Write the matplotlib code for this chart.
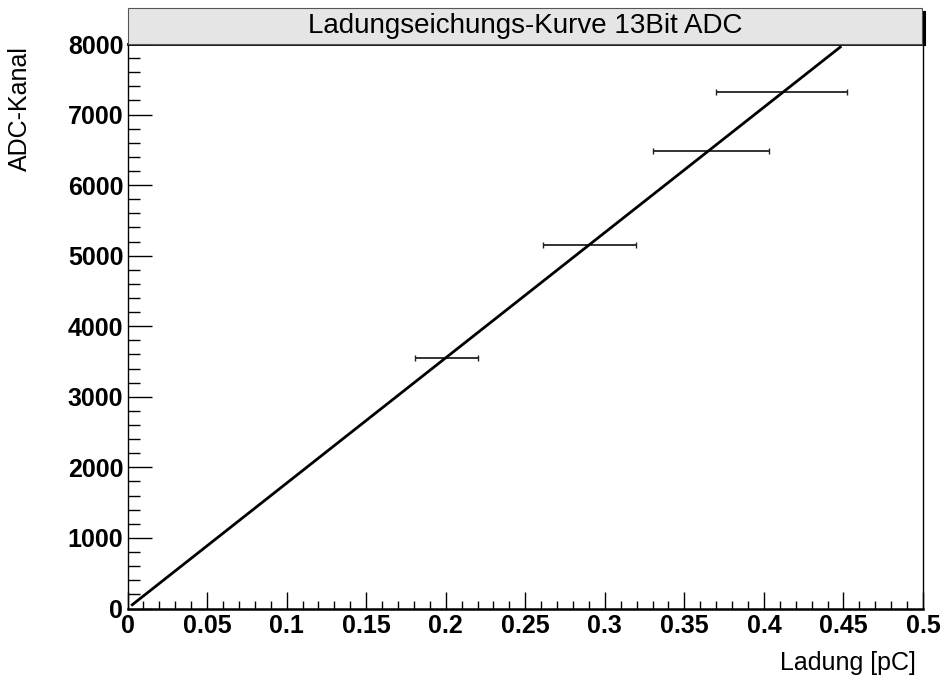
import matplotlib
matplotlib.use("Agg")
import matplotlib.pyplot as plt
from matplotlib.patches import Rectangle
from matplotlib.ticker import MultipleLocator
import numpy as np

plt.rcParams['font.family'] = ['Liberation Sans', 'DejaVu Sans']

# data
charge = [0.2005, 0.2905, 0.3667, 0.4109]          # pC
charge_err = [0.0198, 0.0291, 0.0367, 0.0411]
adc = [3550, 5150, 6477, 7324]
fit_slope = 17760.0
fit_intercept = 0.0
fit_range = [0.003, 0.448]

title = "Ladungseichungs-Kurve 13Bit ADC"
xlabel = "Ladung [pC]"
ylabel = "ADC-Kanal"

W, H = 943, 677
fig = plt.figure(figsize=(W/100, H/100), dpi=100)
L, R, T, B = 127.5, 923, 44, 608.5
ax = fig.add_axes([L/W, 1-B/H, (R-L)/W, (B-T)/H])
ax.set_xlim(0, 0.5)
ax.set_ylim(0, 8000)

xf = np.array(fit_range)
ax.plot(xf, fit_slope*xf + fit_intercept, color='black', lw=2.0, zorder=3)
ax.errorbar(charge, adc, xerr=charge_err, fmt='none', ecolor='#222222',
            elinewidth=1.3, capsize=2.5, capthick=1.0, zorder=2)

ax.xaxis.set_major_locator(MultipleLocator(0.05))
ax.xaxis.set_minor_locator(MultipleLocator(0.01))
ax.yaxis.set_major_locator(MultipleLocator(1000))
ax.yaxis.set_minor_locator(MultipleLocator(200))
ax.xaxis.set_major_formatter(matplotlib.ticker.FuncFormatter(lambda v, p: ('%g' % round(v, 3))))
ax.tick_params(axis='x', which='major', direction='in', length=12.2, width=1.0,
               labelsize=18, pad=4)
ax.tick_params(axis='x', which='minor', direction='in', length=5.8, width=1.0)
ax.tick_params(axis='y', which='major', direction='in', length=17.3, width=1.0,
               labelsize=18, pad=3)
ax.tick_params(axis='y', which='minor', direction='in', length=8.6, width=1.0)
for lab in ax.get_xticklabels() + ax.get_yticklabels():
    lab.set_fontweight('bold')

for s in ['left', 'right']:
    ax.spines[s].set_linewidth(1.0)
ax.spines['bottom'].set_linewidth(1.8)
ax.spines['top'].set_linewidth(2.0)

# title box
bx0, bx1, by0, by1 = 127.5, 922, 8, 44
fig.patches.append(Rectangle((bx0/W, 1-by1/H), (bx1-bx0)/W, (by1-by0)/H,
                             transform=fig.transFigure, facecolor='#e5e5e5',
                             edgecolor='#555555', lw=0.8, zorder=5))
# shadow
fig.add_artist(plt.Line2D([(bx1+1.5)/W, (bx1+1.5)/W], [1-(by0+4)/H, 1-by1/H],
                          transform=fig.transFigure, color='black', lw=2.2, zorder=6))
fig.text((bx0+bx1)/2/W, 1-(by0+by1)/2/H, title, ha='center', va='center',
         fontsize=20, zorder=7)

fig.text(916/W, 1-670/H, xlabel, ha='right', va='baseline', fontsize=18)
fig.text(20/W, 1-46/H, ylabel, ha='center', va='top', rotation=90, fontsize=18)

fig.savefig("out.png", dpi=100)
